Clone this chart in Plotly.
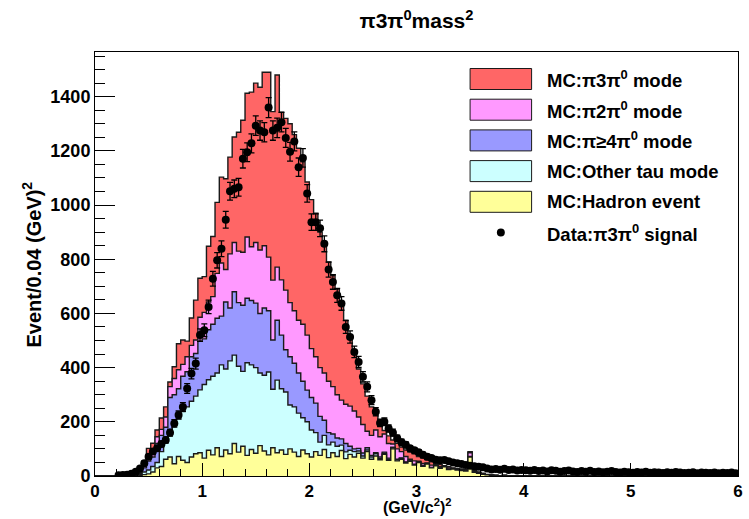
import numpy as np
import plotly.graph_objects as go

# ---------------- data (counts per 0.04 (GeV)^2 bin) ----------------
bin_width = 0.04
n_bins = 150
mc_first_bin = 9      # MC arrays start at bin 9 (x = 0.36)
data_first_bin = 5    # data array starts at bin 5 (x = 0.20)

hadron = [0, 2, 5, 8, 15, 30, 35, 62, 70, 45, 72, 58, 50, 70, 82, 86, 66, 95, 78, 104,
          72, 96, 82, 120, 88, 110, 76, 98, 84, 112, 92, 78, 104, 86, 96, 80, 100, 88, 72, 96,
          82, 70, 90, 76, 98, 68, 86, 72, 94, 64, 80, 70, 84, 66, 90, 62, 74, 60, 80, 58,
          100, 56, 62, 48, 54, 40, 50, 36, 44, 30, 38, 28, 34, 24, 26, 22, 20, 18, 70, 14,
          10, 6, 4, 2, 2, 1, 2, 1, 1, 1]
other_tau = [1, 4, 10, 14, 20, 20, 55, 68, 100, 145, 140, 180, 205, 206, 213, 232, 272, 260, 290, 276,
             338, 299, 343, 326, 317, 276, 342, 312, 316, 268, 280, 306, 216, 268, 226, 230, 162, 167, 160, 119,
             118, 100, 70, 49, 52, 47, 39, 38, 20, 25, 15, 20, 8, 8, 6, 8, 8, 4, 4, 4,
             4, 4, 3, 2, 2, 2, 2, 2, 1, 1, 1, 1, 1, 1, 1]
pi_ge4pi0 = [1, 4, 15, 33, 35, 70, 60, 50, 120, 110, 110, 130, 130, 164, 157, 180, 168, 185, 192, 202,
             180, 247, 195, 234, 235, 244, 238, 238, 238, 220, 248, 226, 182, 221, 198, 156, 178, 161, 148, 135,
             117, 120, 109, 95, 56, 45, 30, 30, 23, 31, 15, 10, 10, 11, 8, 6, 4, 6, 4, 4,
             2, 2, 2, 2, 2, 2, 1, 1, 1, 1, 1, 1, 0, 0, 0, 1, 1, 1, 2, 1,
             1, 1, 0, 1]
pi2pi0 = [0, 2, 8, 7, 12, 25, 22, 38, 40, 60, 70, 44, 55, 42, 50, 88, 98, 102, 102, 166,
          196, 120, 200, 182, 190, 196, 226, 198, 224, 234, 230, 198, 221, 196, 204, 220, 200, 194, 195, 210,
          203, 180, 171, 180, 174, 190, 175, 160, 143, 145, 148, 140, 116, 105, 61, 74, 84, 75, 67, 54,
          12, 38, 23, 20, 4, 12, 2, 7, 2, 8, 2, 4, 1, 5, 1, 3, 3, 3, 14, 3,
          2, 1, 1, 0]
pi3pi0 = [1, 3, 17, 40, 39, 25, 42, 37, 17, 43, 96, 90, 58, 101, 147, 144, 132, 206, 222, 262,
          317, 335, 357, 389, 439, 487, 531, 571, 588, 601, 640, 682, 622, 709, 619, 634, 660, 650, 635, 600,
          565, 550, 530, 500, 470, 440, 410, 390, 360, 310, 252, 210, 177, 150, 130, 105, 55, 50, 13, 28,
          15, 21, 17, 24, 26, 26, 17, 20, 12, 12, 4, 8, 2, 4, 2, 2, 2, 2, 4, 2,
          2, 2, 1, 1]

data_signal = [3, 4, 5, 8, 16, 28, 47, 71, 90, 102, 118, 133, 160, 194, 225, 255, 323, 378, 415, 520,
               538, 624, 728, 796, 839, 946, 1051, 1060, 1066, 1171, 1195, 1228, 1293, 1275, 1269, 1360, 1275, 1285, 1306, 1248,
               1197, 1235, 1140, 1174, 1043, 937, 937, 914, 857, 762, 716, 667, 637, 550, 513, 458, 421, 366, 329, 280,
               237, 196, 200, 175, 160, 139, 125, 115, 102, 95, 88, 78, 71, 66, 60, 58, 59, 54, 50, 47,
               44, 41, 38, 36, 34,
               32, 28, 24, 26, 23, 27, 22, 24, 20, 22, 21, 19, 22, 18, 20, 17, 21, 19, 16, 18,
               20, 17, 15, 18, 16, 19, 15, 17, 14, 16, 18, 15, 13, 16, 14, 12, 15, 13, 16, 12,
               14, 13, 11, 14, 12, 15, 13, 11, 12, 14, 10, 13, 12, 11, 13, 10, 12, 11, 13, 10]

components = [  # bottom -> top of the stack
    ("MC:Hadron event", hadron, "#ffff99"),
    ("MC:Other tau mode", other_tau, "#ccffff"),
    ("MC:π≥4π<sup>0</sup> mode", pi_ge4pi0, "#9999ff"),
    ("MC:π2π<sup>0</sup> mode", pi2pi0, "#ff99ff"),
    ("MC:π3π<sup>0</sup> mode", pi3pi0, "#ff6666"),
]

# ---------------- build figure ----------------
edges = np.arange(n_bins + 1) * bin_width


def full(arr, first):
    out = np.zeros(n_bins)
    a = np.asarray(arr, dtype=float)[: n_bins - first]
    out[first:first + len(a)] = a
    return out


cum = np.zeros(n_bins)
stack_levels = []
for name, vals, col in components:
    cum = cum + full(vals, mc_first_bin)
    stack_levels.append((name, cum.copy(), col))

fig = go.Figure()
# ROOT THStack style: draw cumulative histograms from the top down
for name, level, col in reversed(stack_levels):
    xs = np.concatenate([[edges[0]], edges, [edges[-1]]])
    ys = np.concatenate([[0], level, [level[-1]], [0]])
    fig.add_trace(go.Scatter(
        x=xs, y=ys, mode="lines", line=dict(shape="hv", color="#1a1a1a", width=1.4),
        fill="tozeroy", fillcolor=col, name=name, showlegend=False, hoverinfo="skip"))

d = full(data_signal, data_first_bin)
centers = edges[:-1] + bin_width / 2
mask = np.arange(n_bins) >= data_first_bin
fig.add_trace(go.Scatter(
    x=centers[mask], y=d[mask], mode="markers",
    marker=dict(color="black", size=8),
    error_y=dict(type="data", array=np.sqrt(d[mask]), color="black", thickness=1.3, width=3),
    showlegend=False))

FONT = "Liberation Sans"
fig.update_layout(
    width=749, height=519,
    margin=dict(l=95, r=6, t=52, b=43),
    paper_bgcolor="white", plot_bgcolor="white",
    title=dict(text="π3π<sup>0</sup>mass<sup>2</sup>", x=0.5, xref="paper", xanchor="center",
               y=1 - 21 / 519, yref="container", yanchor="middle",
               font=dict(family=FONT, size=21, weight="bold", color="black")),
)
fig.update_xaxes(range=[0, 6], dtick=1, ticks="inside", ticklen=13, tickcolor="black",
                 minor=dict(dtick=0.2, ticks="inside", ticklen=7, tickcolor="black"),
                 showline=True, linecolor="black", linewidth=1, mirror=True,
                 showgrid=False, zeroline=False,
                 tickfont=dict(family=FONT, size=17, weight="bold", color="black"))
fig.update_yaxes(range=[0, 1565], dtick=200, ticks="inside", ticklen=20, tickcolor="black",
                 minor=dict(dtick=50, ticks="inside", ticklen=10, tickcolor="black"),
                 showline=True, linecolor="black", linewidth=1, mirror=True,
                 showgrid=False, zeroline=False,
                 tickfont=dict(family=FONT, size=18, weight="bold", color="black"))

# axis titles
fig.add_annotation(text="(GeV/c<sup>2</sup>)<sup>2</sup>", xref="paper", yref="paper",
                   x=0.5, y=-42 / 424, showarrow=False, xanchor="center", yanchor="bottom",
                   font=dict(family=FONT, size=16, weight="bold", color="black"))
fig.add_annotation(text="Event/0.04 (GeV)<sup>2</sup>", xref="paper", yref="paper",
                   x=-64 / 648, y=0.5, showarrow=False, textangle=-90,
                   xanchor="center", yanchor="middle",
                   font=dict(family=FONT, size=20, weight="bold", color="black"))

# legend (ROOT TLegend look)
def px2paper(px, py):
    return (px - 95) / 648, (476 - py) / 424

legend_rows = [(n, c) for n, _, c in reversed(stack_levels)]
for k, (name, col) in enumerate(legend_rows):
    top = 68.5 + 30.7 * k
    x0, y1 = px2paper(473, top)
    x1, y0 = px2paper(535, top + 21)
    fig.add_shape(type="rect", xref="paper", yref="paper", x0=x0, x1=x1, y0=y0, y1=y1,
                  fillcolor=col, line=dict(color="#1a1a1a", width=1))
    tx, ty = px2paper(548, top + 10.5)
    fig.add_annotation(text=name, xref="paper", yref="paper", x=tx, y=ty, showarrow=False,
                       xanchor="left", yanchor="middle",
                       font=dict(family=FONT, size=18.5, weight="bold", color="black"))
top = 68.5 + 30.7 * 5
cx, cy = px2paper(504, top + 10.5)
r = 4
fig.add_shape(type="circle", xref="paper", yref="paper",
              x0=cx - r / 648, x1=cx + r / 648, y0=cy - r / 424, y1=cy + r / 424,
              fillcolor="black", line=dict(color="black", width=0))
tx, ty = px2paper(548, top + 10.5)
fig.add_annotation(text="Data:π3π<sup>0</sup> signal", xref="paper", yref="paper", x=tx, y=ty,
                   showarrow=False, xanchor="left", yanchor="middle",
                   font=dict(family=FONT, size=18.5, weight="bold", color="black"))

fig.write_html("out.html")
